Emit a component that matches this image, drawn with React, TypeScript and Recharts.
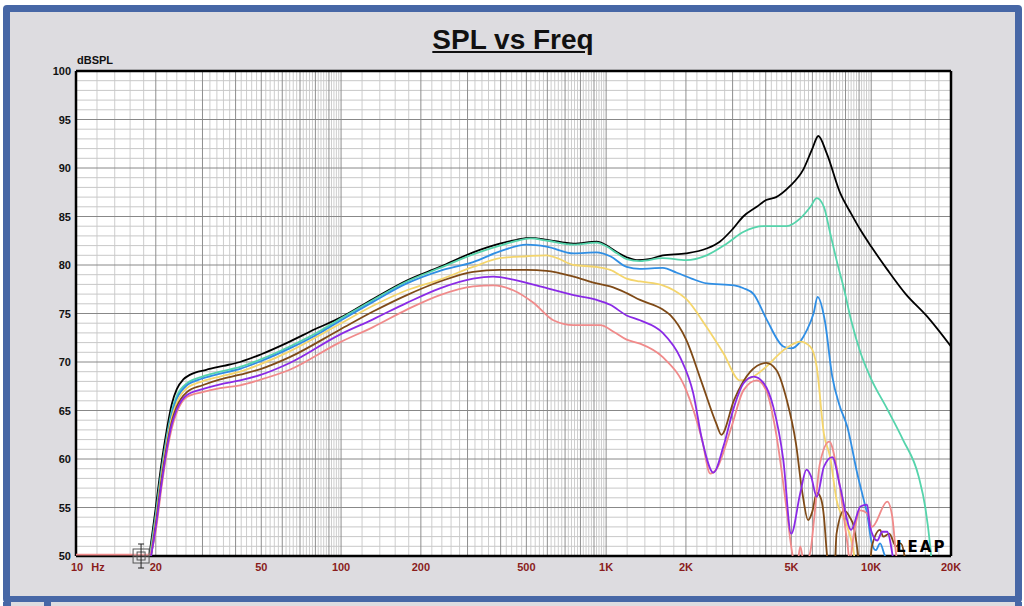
import React from 'react';
import { LineChart, Line, XAxis, YAxis, CartesianGrid, ReferenceDot, ReferenceLine } from 'recharts';

type Pt = [number, number];

const xTicks = [10, 20, 50, 100, 200, 500, 1000, 2000, 5000, 10000, 20000];
const xTickLabels = ['10', '20', '50', '100', '200', '500', '1K', '2K', '5K', '10K', '20K'];
const yTicks = [50, 55, 60, 65, 70, 75, 80, 85, 90, 95, 100];
const decades = [10, 100, 1000, 10000];
const majorMultipliers = [1, 2, 3, 4, 5, 6, 7, 8, 9];
const minorMultipliers = [1.2, 1.4, 1.6, 1.8, 2.2, 2.4, 2.6, 2.8, 3.2, 3.4, 3.6, 3.8, 4.2, 4.4, 4.6, 4.8, 5.2, 5.4, 5.6, 5.8, 6.2, 6.4, 6.6, 6.8, 7.2, 7.4, 7.6, 7.8, 8.2, 8.4, 8.6, 8.8, 9.2, 9.4, 9.6, 9.8];
const dbMinor = [51, 52, 53, 54, 56, 57, 58, 59, 61, 62, 63, 64, 66, 67, 68, 69, 71, 72, 73, 74, 76, 77, 78, 79, 81, 82, 83, 84, 86, 87, 88, 89, 91, 92, 93, 94, 96, 97, 98, 99];

const blackPts: Pt[] = [
  [18.9, 50], [20, 55], [21, 59.5], [22, 63], [23, 65.7], [24, 67.2], [25.4, 68.2], [27, 68.7], [31, 69.2], [36, 69.6],
  [41.6, 70.0], [50, 70.8], [64, 72.1], [80, 73.4], [100, 74.6], [132, 76.5], [177, 78.4], [236, 79.8], [315, 81.3],
  [397, 82.2], [460, 82.6], [517, 82.8], [600, 82.6], [754, 82.2], [921, 82.4], [1006, 82.0], [1100, 81.3], [1195, 80.8],
  [1306, 80.5], [1450, 80.6], [1636, 81.0], [2004, 81.2], [2393, 81.7], [2684, 82.4], [3000, 83.7], [3290, 85.0],
  [3700, 86.0], [4013, 86.7], [4379, 87.0], [4923, 88.1], [5534, 89.8], [6000, 92.0], [6316, 93.3], [6795, 91.5],
  [7642, 87.4], [8400, 85.3], [9113, 83.6], [10000, 81.9], [11520, 79.5], [13500, 77.0], [16250, 74.7], [20000, 71.6],
];

const tealPts: Pt[] = [
  [19.0, 50], [20, 54.3], [21, 58.8], [22, 62.3], [23, 65.0], [24, 66.5], [26.2, 67.8], [30, 68.5], [35, 69.0],
  [41.6, 69.5], [50, 70.3], [64, 71.6], [84.5, 73.3], [100, 74.5], [132, 76.4], [177, 78.3], [236, 79.7], [315, 81.1],
  [397, 82.0], [460, 82.5], [517, 82.75], [600, 82.5], [754, 82.1], [921, 82.3], [1006, 81.9], [1100, 81.2], [1195, 80.6],
  [1342, 80.4], [1636, 80.7], [2004, 80.5], [2393, 81.0], [2848, 82.2], [3290, 83.4], [3935, 84.0], [4800, 84.0],
  [5400, 84.8], [5900, 86.0], [6230, 86.9], [6630, 86.0], [7000, 83.3], [7400, 80.5], [7900, 77.5], [8400, 74.3],
  [9100, 71.0], [9900, 68.5], [11520, 65.1], [13170, 62.0], [15100, 58.2], [16000, 55.0], [16700, 51.0], [17100, 48],
];

const bluePts: Pt[] = [
  [19.1, 50], [20, 54], [21, 58.5], [22, 62], [23, 64.7], [24, 66.2], [26.2, 67.6], [30, 68.3], [35, 68.8],
  [41.6, 69.3], [50, 70.1], [64, 71.4], [84.5, 73.1], [100, 74.3], [132, 76.2], [177, 78.1], [236, 79.4], [315, 80.3],
  [397, 81.4], [501, 82.1], [596, 81.9], [754, 81.2], [921, 81.3], [1036, 80.9], [1195, 79.8], [1342, 79.6], [1636, 79.7],
  [1847, 79.2], [2100, 78.6], [2393, 78.1], [3040, 77.9], [3300, 77.6], [3600, 77.0], [4013, 74.5], [4660, 71.6],
  [4990, 71.4], [5400, 72.1], [5700, 73.2], [6060, 75.0], [6280, 76.7], [6680, 74.3], [7130, 68.5], [7600, 65.5],
  [8130, 63.3], [8860, 58.5], [9450, 55.4], [9650, 54.4], [10000, 51.6], [10400, 50.6], [10800, 51.3], [11200, 50.2], [11600, 49],
];

const yellowPts: Pt[] = [
  [19.1, 50], [20, 53.7], [21, 58.2], [22, 61.7], [23, 64.3], [24, 65.8], [26.2, 67.3], [30, 68.0], [35, 68.5],
  [41.6, 69.0], [50, 69.8], [64, 71.1], [98.5, 73.9], [132, 75.8], [177, 77.4], [236, 78.5], [315, 79.8], [397, 80.7],
  [501, 80.9], [596, 81.0], [654, 80.7], [754, 80.0], [921, 79.8], [1036, 79.5], [1195, 78.6], [1342, 78.3], [1636, 77.9],
  [1800, 77.4], [2004, 76.5], [2393, 73.6], [2770, 70.9], [3200, 68.1], [3600, 68.5], [4013, 69.5], [4660, 71.2],
  [5400, 72.1], [5880, 71.6], [6230, 69.5], [6630, 62.6], [7000, 60.2], [7400, 55.8], [8130, 53.0], [8600, 50.3], [8800, 48],
];

const brownPts: Pt[] = [
  [19.2, 50], [20, 53.3], [21, 57.8], [22, 61.3], [23, 63.9], [24, 65.4], [26.2, 66.9], [30, 67.6], [35, 68.2],
  [41.6, 68.7], [50, 69.3], [64, 70.5], [98.5, 73.3], [132, 75.2], [177, 76.9], [236, 78.3], [315, 79.3], [397, 79.5],
  [501, 79.5], [596, 79.4], [754, 78.8], [921, 78.1], [1036, 77.8], [1195, 77.1], [1342, 76.4], [1636, 75.4], [1750, 74.8],
  [2004, 72.3], [2300, 67.8], [2600, 63.7], [2720, 62.5], [3040, 66.1], [3500, 69.0], [4013, 69.9], [4380, 69.2],
  [4800, 66.1], [5200, 61.6], [5500, 56.5], [5780, 53.7], [6000, 54.6], [6230, 56.5], [6450, 56.0], [6630, 54.1],
  [6800, 50.3], [6950, 48], [7250, 48], [7400, 52.3], [7900, 54.7], [8300, 54.0], [8600, 53.0], [8900, 50.3], [9100, 48],
  [9800, 48], [10060, 51.0], [10800, 52.7], [11100, 52.0], [11700, 52.3], [12400, 51.0], [12900, 51.3], [13300, 50.3], [13500, 49],
];

const purplePts: Pt[] = [
  [19.2, 50], [20, 53], [21, 57.4], [22, 61], [23, 63.6], [24, 65.1], [26.2, 66.6], [30, 67.2], [35, 67.7],
  [41.6, 68.1], [50, 68.7], [64, 69.9], [98.5, 72.8], [132, 74.4], [177, 76.1], [236, 77.6], [315, 78.6], [375, 78.8],
  [446, 78.5], [563, 77.8], [754, 76.9], [921, 76.4], [1036, 75.9], [1195, 74.8], [1342, 74.3], [1636, 73.0], [1900, 70.5],
  [2130, 66.8], [2300, 62.0], [2540, 58.6], [2770, 61.3], [3040, 65.4], [3300, 67.8], [3600, 68.5], [3935, 67.8],
  [4270, 65.4], [4660, 59.9], [4990, 52.3], [5400, 56.5], [5700, 58.9], [5930, 58.2], [6230, 56.1], [6630, 59.2],
  [7130, 60.2], [7640, 57.1], [8400, 52.7], [9110, 55.1], [9650, 55.3], [9900, 53.0], [10540, 51.6], [11000, 52.5],
  [11500, 52.5], [12000, 50.3], [12200, 49],
];

const pinkPts: Pt[] = [
  [10, 50.15], [18.8, 50.15], [19.3, 50.6], [20, 52.6], [21, 57], [22, 60.6], [23, 63.2], [24, 64.8], [26.2, 66.4],
  [30, 66.9], [35, 67.3], [41.6, 67.6], [50, 68.2], [64, 69.2], [98.5, 72.0], [132, 73.6], [177, 75.4], [236, 76.9],
  [315, 77.8], [375, 77.9], [446, 77.4], [532, 76.1], [632, 74.3], [754, 73.8], [950, 73.8], [1070, 73.1], [1195, 72.3],
  [1342, 71.9], [1636, 70.5], [2004, 67.1], [2300, 62.0], [2470, 58.5], [2600, 58.9], [2970, 63.3], [3300, 67.1],
  [3700, 68.1], [4013, 67.1], [4380, 62.6], [4800, 54.7], [4990, 51.0], [5100, 49.5], [5250, 49], [5400, 51],
  [5600, 49], [5900, 50.5], [6100, 54], [6400, 59.5], [6950, 61.8], [7400, 59.2], [8130, 51.3], [8300, 49.5],
  [8600, 52.3], [9110, 54.7], [9650, 54.4], [10060, 53.0], [11500, 55.6], [12000, 54.1], [12400, 50.3], [12600, 49],
];

const series = [
  { name: 'black', pts: blackPts, color: '#000000' },
  { name: 'teal', pts: tealPts, color: '#55d4ab' },
  { name: 'blue', pts: bluePts, color: '#2f8ee4' },
  { name: 'yellow', pts: yellowPts, color: '#f4d56c' },
  { name: 'brown', pts: brownPts, color: '#7f4a17' },
  { name: 'pink', pts: pinkPts, color: '#f08a8a' },
  { name: 'purple', pts: purplePts, color: '#8a2ae6' },
];

const toData = (pts: Pt[]) => pts.map(([f, v]) => ({ f, v }));

const majorX: number[] = [];
const minorX: number[] = [];
decades.forEach((d) => {
  majorMultipliers.forEach((m) => { if (m * d > 10 && m * d < 20000) majorX.push(m * d); });
  minorMultipliers.forEach((m) => { if (m * d < 20000) minorX.push(m * d); });
});

const FONT = '"Liberation Sans", Arial, sans-serif';

const XTick = (props: any) => {
  const { x, payload } = props;
  const idx = xTicks.indexOf(payload.value);
  const label = idx >= 0 ? xTickLabels[idx] : '';
  const y = 571;
  const style = { fontFamily: FONT, fontWeight: 700, fontSize: 11, fill: '#8a1c1c' } as any;
  if (payload.value === 10) {
    return (
      <g>
        <text x={x + 1} y={y} textAnchor="middle" style={style}>{label}</text>
        <text x={x + 22} y={y} textAnchor="middle" style={style}>Hz</text>
      </g>
    );
  }
  return <text x={x} y={y} textAnchor="middle" style={style}>{label}</text>;
};

const YTick = (props: any) => {
  const { y, payload } = props;
  return (
    <text x={71} y={y + 4} textAnchor="end" style={{ fontFamily: FONT, fontWeight: 700, fontSize: 11, fill: '#111' } as any}>
      {payload.value}
    </text>
  );
};

const Marker = (props: any) => {
  const { cx, cy } = props;
  if (cx == null || cy == null) return null;
  return (
    <g stroke="#555" fill="none" strokeWidth={1}>
      <rect x={cx - 8} y={cy - 7} width={16} height={14} fill="rgba(255,255,255,0.2)" />
      <rect x={cx - 4} y={cy - 4} width={8} height={8} />
      <line x1={cx} y1={cy - 12} x2={cx} y2={cy + 12} stroke="#222" />
      <line x1={cx - 3} y1={cy - 12} x2={cx + 3} y2={cy - 12} stroke="#222" />
      <line x1={cx - 3} y1={cy + 12} x2={cx + 3} y2={cy + 12} stroke="#222" />
    </g>
  );
};

export default function App() {
  return (
    <div style={{ position: 'absolute', left: 0, top: 0, width: 1024, height: 606, background: '#ffffff', overflow: 'hidden', fontFamily: FONT }}>
      <div style={{ position: 'absolute', left: 3, top: 5, width: 1019, height: 598, boxSizing: 'border-box', border: '7px solid #4767a6', borderRadius: 4, background: '#dddce0' }} />
      <div style={{ position: 'absolute', left: 3, top: 602, width: 1019, height: 4, background: '#dddce0' }} />
      <div style={{ position: 'absolute', left: 3, top: 602, width: 8, height: 4, background: '#4767a6' }} />
      <div style={{ position: 'absolute', left: 44, top: 602, width: 7, height: 4, background: '#4767a6' }} />
      <div style={{ position: 'absolute', left: 1015, top: 602, width: 7, height: 4, background: '#4767a6' }} />
      <div style={{ position: 'absolute', left: 0, top: 26, width: 1026, textAlign: 'center', fontSize: 28, lineHeight: '28px', fontWeight: 700, textDecoration: 'underline', color: '#111' }}>
        SPL vs Freq
      </div>
      <div style={{ position: 'absolute', left: 77, top: 55, fontSize: 11, lineHeight: '11px', fontWeight: 700, color: '#111' }}>dBSPL</div>
      <div style={{ position: 'absolute', left: 0, top: 0 }}>
        <LineChart width={1024} height={606} margin={{ top: 71, right: 73, bottom: 0, left: 0 }}>
          <XAxis
            dataKey="f"
            type="number"
            scale="log"
            domain={[10, 20000]}
            allowDataOverflow
            ticks={xTicks}
            interval={0}
            height={50}
            axisLine={false}
            tickLine={false}
            tick={<XTick />}
          />
          <YAxis
            type="number"
            domain={[50, 100]}
            allowDataOverflow
            ticks={yTicks}
            interval={0}
            width={76}
            axisLine={false}
            tickLine={false}
            tick={<YTick />}
          />
          <CartesianGrid fill="#ffffff" horizontal={false} vertical={false} />
          {minorX.map((v) => (
            <ReferenceLine key={'mx' + v} x={v} stroke="#cdcdcd" strokeWidth={1} />
          ))}
          {dbMinor.map((v) => (
            <ReferenceLine key={'my' + v} y={v} stroke="#c8c8c8" strokeWidth={1} />
          ))}
          {majorX.map((v) => (
            <ReferenceLine key={'Mx' + v} x={v} stroke="#8e8e8e" strokeWidth={1} />
          ))}
          {yTicks.map((v) => (
            <ReferenceLine key={'My' + v} y={v} stroke="#888888" strokeWidth={1} />
          ))}
          <ReferenceLine x={10} stroke="#000" strokeWidth={2.5} />
          <ReferenceLine x={20000} stroke="#000" strokeWidth={2.5} />
          <ReferenceLine y={50} stroke="#000" strokeWidth={2.5} />
          <ReferenceLine y={100} stroke="#000" strokeWidth={2.5} />
          {series.map((s) => (
            <Line
              key={s.name}
              data={toData(s.pts)}
              dataKey="v"
              type="monotone"
              stroke={s.color}
              strokeWidth={1.8}
              dot={false}
              activeDot={false}
              isAnimationActive={false}
            />
          ))}
          <ReferenceDot x={17.6} y={50} r={0} ifOverflow="visible" shape={<Marker />} />
        </LineChart>
      </div>
      <div style={{ position: 'absolute', left: 896, top: 540, fontFamily: '"DejaVu Sans", sans-serif', fontSize: 15, lineHeight: '15px', fontWeight: 700, letterSpacing: 2, color: '#000' }}>LEAP</div>
    </div>
  );
}
